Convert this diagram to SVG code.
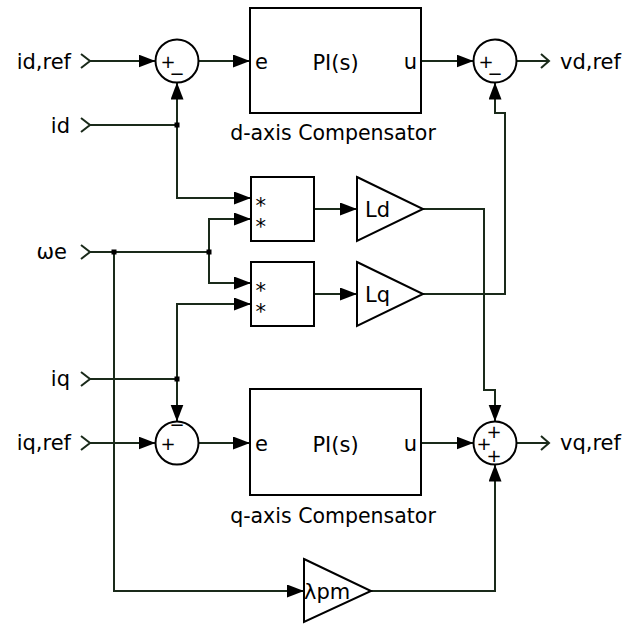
<svg xmlns="http://www.w3.org/2000/svg" width="632" height="625" viewBox="0 0 632 625">
<defs>
<marker id="arr" markerUnits="userSpaceOnUse" markerWidth="18" markerHeight="14" refX="17" refY="6.5" orient="auto">
<path d="M0,0 L17,6.5 L0,13 z" fill="#000"/>
</marker>
<style>
.ln{fill:none;stroke:#1a2a1a;stroke-width:2}
.ar{marker-end:url(#arr)}
.blk{fill:#fff;stroke:#000;stroke-width:2}
.t{font-family:"DejaVu Sans",Verdana,sans-serif;font-size:21px;fill:#000}
.c{font-family:"DejaVu Sans",Verdana,sans-serif;font-size:20.5px;fill:#000;text-anchor:middle}
.lab{text-anchor:end}
.s{font-family:"DejaVu Sans",Verdana,sans-serif;font-size:18px;fill:#000;text-anchor:middle}
.dot{fill:#000}
</style>
</defs>
<rect width="632" height="625" fill="#fff"/>
<g id="connectors">
<path class="ln" d="M81,54 L90,61 L81,68"/>
<path class="ln ar" d="M90,61 H155.5"/>
<path class="ln ar" d="M198.5,61 H250"/>
<path class="ln ar" d="M421,61 H473.5"/>
<path class="ln" d="M516.5,61 H549 M541,54 L549,61 L541,68"/>
<path class="ln" d="M81,118 L90,125 L81,132 M90,125 H177"/>
<path class="ln ar" d="M177,125 V82.5"/>
<path class="ln ar" d="M177,125 V198 H251"/>
<path class="ln" d="M81,245 L90,252 L81,259 M90,252 H209"/>
<path class="ln ar" d="M209,252 V219 H251"/>
<path class="ln ar" d="M209,252 V283 H251"/>
<path class="ln ar" d="M114,252 V591 H304"/>
<path class="ln" d="M81,372 L90,379 L81,386 M90,379 H177"/>
<path class="ln ar" d="M177,379 V421.5"/>
<path class="ln ar" d="M177,379 V304 H251"/>
<path class="ln" d="M81,436 L90,443 L81,450"/>
<path class="ln ar" d="M90,443 H155.5"/>
<path class="ln ar" d="M198.5,443 H250"/>
<path class="ln ar" d="M421,443 H473.5"/>
<path class="ln" d="M516.5,443 H549 M541,436 L549,443 L541,450"/>
<path class="ln ar" d="M314,209 H357"/>
<path class="ln ar" d="M314,294 H357"/>
<path class="ln ar" d="M423,209 H484 V390 H495 V421.5"/>
<path class="ln ar" d="M423,294 H505 V113 H495 V82.5"/>
<path class="ln ar" d="M371,591 H495 V464.5"/>
<rect class="dot" x="174.5" y="122.5" width="5" height="5"/>
<rect class="dot" x="111.5" y="249.5" width="5" height="5"/>
<rect class="dot" x="206.5" y="249.5" width="5" height="5"/>
<rect class="dot" x="174.5" y="376.5" width="5" height="5"/>
</g>
<g id="in_idref"><text class="t lab" x="71" y="69">id,ref</text></g>
<g id="in_id"><text class="t lab" x="70" y="133">id</text></g>
<g id="in_we"><text class="t lab" x="67" y="259">ωe</text></g>
<g id="in_iq"><text class="t lab" x="70" y="386">iq</text></g>
<g id="in_iqref"><text class="t lab" x="71" y="450">iq,ref</text></g>
<g id="out_vdref"><text class="t" x="560" y="69">vd,ref</text></g>
<g id="out_vqref"><text class="t" x="560" y="450">vq,ref</text></g>
<g id="sum_d">
<circle class="blk" cx="177" cy="61" r="21.5"/>
<text class="s" x="168 177" y="68 80">+−</text>
</g>
<g id="pi_d">
<rect class="blk" x="250" y="8" width="171" height="105"/>
<text class="t" x="255" y="69">e</text>
<text class="t" x="417" y="69" text-anchor="end">u</text>
<text class="t" x="335.5" y="70" text-anchor="middle" font-size="22.5">PI(s)</text>
<text class="c" x="333" y="140">d-axis Compensator</text>
</g>
<g id="sum_vd">
<circle class="blk" cx="495" cy="61" r="21.5"/>
<text class="s" x="486 495" y="68 80">+−</text>
</g>
<g id="mult_d">
<rect class="blk" x="251" y="177" width="63" height="64"/>
<text class="t" font-size="26" x="255.5 255.5" y="213 234">**</text>
</g>
<g id="gain_Ld">
<polygon class="blk" points="357,177 423,209 357,241"/>
<text class="t" x="365" y="217" font-size="22">Ld</text>
</g>
<g id="mult_q">
<rect class="blk" x="251" y="262" width="63" height="64"/>
<text class="t" font-size="26" x="255.5 255.5" y="298 319">**</text>
</g>
<g id="gain_Lq">
<polygon class="blk" points="357,262 423,294 357,326"/>
<text class="t" x="365" y="302" font-size="22">Lq</text>
</g>
<g id="sum_q">
<circle class="blk" cx="177" cy="443" r="21.5"/>
<text class="s" x="168 177" y="450 431">+−</text>
</g>
<g id="pi_q">
<rect class="blk" x="250" y="389" width="171" height="106"/>
<text class="t" x="255" y="451">e</text>
<text class="t" x="417" y="451" text-anchor="end">u</text>
<text class="t" x="335.5" y="452" text-anchor="middle" font-size="22.5">PI(s)</text>
<text class="c" x="333" y="523">q-axis Compensator</text>
</g>
<g id="sum_vq">
<circle class="blk" cx="495" cy="443" r="21.5"/>
<text class="s" x="494 484 494" y="438 450 462">+++</text>
</g>
<g id="gain_lpm">
<polygon class="blk" points="304,559 371,591 304,622"/>
<text class="t" x="304" y="599">λpm</text>
</g>
</svg>
